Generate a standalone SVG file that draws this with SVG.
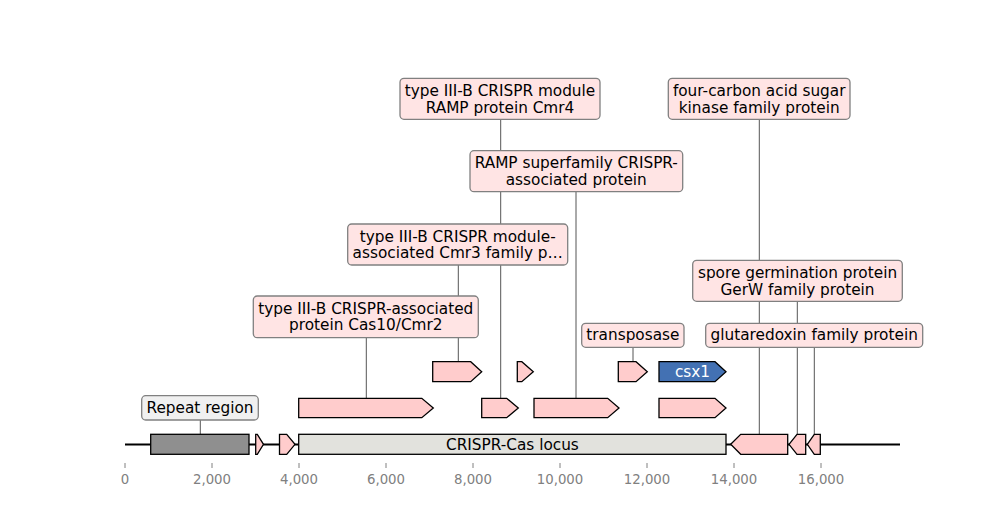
<svg xmlns="http://www.w3.org/2000/svg" width="1000" height="520" viewBox="0 0 1000 520">
<style>
text{font-family:"DejaVu Sans",sans-serif;}
.lbl{font-size:15.3px;fill:#000;text-anchor:middle;}
.box{fill:#ffe4e4;stroke:#808080;stroke-width:1.3;}
.rbox{fill:#f0f0f0;stroke:#808080;stroke-width:1.3;}
.lead{stroke:#555;stroke-width:1;fill:none;}
.gene{fill:#ffcccc;stroke:#000;stroke-width:1.3;stroke-linejoin:miter;}
.tick{stroke:#808080;stroke-width:1;}
.tl{font-size:13.3px;fill:#808080;text-anchor:middle;}
</style>
<rect width="1000" height="520" fill="#fff"/>
<g id="axis">
<line class="tick" x1="125" y1="463" x2="125" y2="468"/>
<line class="tick" x1="212" y1="463" x2="212" y2="468"/>
<line class="tick" x1="299" y1="463" x2="299" y2="468"/>
<line class="tick" x1="386" y1="463" x2="386" y2="468"/>
<line class="tick" x1="473" y1="463" x2="473" y2="468"/>
<line class="tick" x1="560" y1="463" x2="560" y2="468"/>
<line class="tick" x1="647" y1="463" x2="647" y2="468"/>
<line class="tick" x1="734" y1="463" x2="734" y2="468"/>
<line class="tick" x1="821" y1="463" x2="821" y2="468"/>
<text class="tl" x="125" y="484">0</text>
<text class="tl" x="212" y="484">2,000</text>
<text class="tl" x="299" y="484">4,000</text>
<text class="tl" x="386" y="484">6,000</text>
<text class="tl" x="473" y="484">8,000</text>
<text class="tl" x="560" y="484">10,000</text>
<text class="tl" x="647" y="484">12,000</text>
<text class="tl" x="734" y="484">14,000</text>
<text class="tl" x="821" y="484">16,000</text>
</g>
<g id="connectors">
<line x1="125" y1="444.5" x2="900" y2="444.5" stroke="#000" stroke-width="2"/>
<line class="lead" x1="200.3" y1="420" x2="200.3" y2="434.3"/>
<line class="lead" x1="366.3" y1="337.7" x2="366.3" y2="398.3"/>
<line class="lead" x1="458.3" y1="265" x2="458.3" y2="361.7"/>
<line class="lead" x1="500.7" y1="119.3" x2="500.7" y2="398.3"/>
<line class="lead" x1="576" y1="191.7" x2="576" y2="398.3"/>
<line class="lead" x1="633" y1="347.3" x2="633" y2="361.7"/>
<line class="lead" x1="759.3" y1="119.3" x2="759.3" y2="434.3"/>
<line class="lead" x1="797.3" y1="301.7" x2="797.3" y2="434.3"/>
<line class="lead" x1="814.3" y1="346.7" x2="814.3" y2="434.3"/>
</g>
<g id="features">
<g id="repeat-region"><rect x="150.7" y="434.3" width="98.3" height="20" fill="#8f8f8f" stroke="#000" stroke-width="1.3"/></g>
<g id="gene-small1"><polygon class="gene" points="255.7,434.3 257.3,434.3 263.5,444.3 257.3,454.3 255.7,454.3"/></g>
<g id="gene-small2"><polygon class="gene" points="279.5,434.3 286.7,434.3 295,444.3 286.7,454.3 279.5,454.3"/></g>
<g id="locus"><rect x="298.7" y="434.3" width="427.3" height="20" fill="#e2e2dd" stroke="#000" stroke-width="1.3"/>
<text class="lbl" x="512.4" y="449.5">CRISPR-Cas locus</text></g>
<g id="gene-r1"><polygon class="gene" points="730.7,444.3 740.7,434.3 787.7,434.3 787.7,454.3 740.7,454.3"/></g>
<g id="gene-r2"><polygon class="gene" points="789,444.3 797,434.3 805.7,434.3 805.7,454.3 797,454.3"/></g>
<g id="gene-r3"><polygon class="gene" points="807.3,444.3 814.3,434.3 820.3,434.3 820.3,454.3 814.3,454.3"/></g>
<g id="gene-cas10"><polygon class="gene" points="298.7,398.3 421.8,398.3 433.3,408 421.8,417.7 298.7,417.7"/></g>
<g id="gene-cmr4"><polygon class="gene" points="481.7,398.3 506.7,398.3 518.3,408 506.7,417.7 481.7,417.7"/></g>
<g id="gene-ramp"><polygon class="gene" points="534,398.3 607.7,398.3 619,408 607.7,417.7 534,417.7"/></g>
<g id="gene-row2-4"><polygon class="gene" points="659,398.3 715,398.3 726,408 715,417.7 659,417.7"/></g>
<g id="gene-cmr3"><polygon class="gene" points="432.7,361.7 470.7,361.7 481.7,371.7 470.7,381.7 432.7,381.7"/></g>
<g id="gene-row3-2"><polygon class="gene" points="517.3,361.7 521.8,361.7 533.3,371.7 521.8,381.7 517.3,381.7"/></g>
<g id="gene-transposase"><polygon class="gene" points="618.3,361.7 636,361.7 647.3,371.7 636,381.7 618.3,381.7"/></g>
<g id="gene-csx1"><polygon points="659,361.7 715,361.7 726,371.7 715,381.7 659,381.7" fill="#4371b3" stroke="#000" stroke-width="1.3"/>
<text class="lbl" x="692.5" y="376.5" fill="#fff" style="fill:#fff">csx1</text></g>
</g>
<g id="labels">
<g id="label-repeat"><rect class="rbox" x="141.7" y="395.7" width="116.6" height="24.3" rx="4"/>
<text class="lbl" x="200" y="412.5">Repeat region</text></g>
<g id="label-cas10"><rect class="box" x="253.3" y="296" width="225" height="41.7" rx="4"/>
<text class="lbl" x="365.8" y="313.7">type III-B CRISPR-associated</text>
<text class="lbl" x="365.8" y="330.2">protein Cas10/Cmr2</text></g>
<g id="label-cmr3"><rect class="box" x="347.7" y="224" width="220" height="41" rx="4"/>
<text class="lbl" x="457.7" y="241.7">type III-B CRISPR module-</text>
<text class="lbl" x="457.7" y="258.2">associated Cmr3 family p…</text></g>
<g id="label-cmr4"><rect class="box" x="400" y="78.3" width="200" height="41" rx="4"/>
<text class="lbl" x="500" y="96">type III-B CRISPR module</text>
<text class="lbl" x="500" y="112.5">RAMP protein Cmr4</text></g>
<g id="label-ramp"><rect class="box" x="470" y="150.7" width="212.7" height="41" rx="4"/>
<text class="lbl" x="576.3" y="168.4">RAMP superfamily CRISPR-</text>
<text class="lbl" x="576.3" y="184.9">associated protein</text></g>
<g id="label-fourcarbon"><rect class="box" x="668.3" y="78.3" width="181.7" height="41" rx="4"/>
<text class="lbl" x="759.2" y="96">four-carbon acid sugar</text>
<text class="lbl" x="759.2" y="112.5">kinase family protein</text></g>
<g id="label-spore"><rect class="box" x="692.7" y="260.3" width="209.6" height="41" rx="4"/>
<text class="lbl" x="797.5" y="278">spore germination protein</text>
<text class="lbl" x="797.5" y="294.5">GerW family protein</text></g>
<g id="label-transposase"><rect class="box" x="581.7" y="323.3" width="102.3" height="24" rx="4"/>
<text class="lbl" x="632.9" y="340">transposase</text></g>
<g id="label-glutaredoxin"><rect class="box" x="705.7" y="323.3" width="217" height="24" rx="4"/>
<text class="lbl" x="814.2" y="340">glutaredoxin family protein</text></g>
</g>
</svg>
